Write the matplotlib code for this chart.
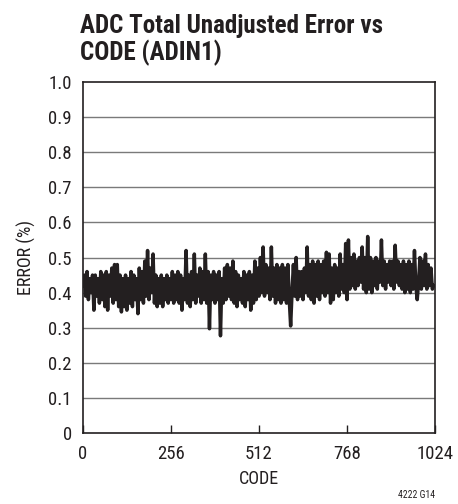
import numpy as np
import matplotlib.pyplot as plt
from matplotlib import font_manager

# look for a narrow face; otherwise ask DejaVu for its condensed cut
names = {f.name for f in font_manager.fontManager.ttflist}
narrow = [n for n in ['Liberation Sans Narrow', 'Roboto Condensed', 'DejaVu Sans'] if n in names]
plt.rcParams['font.family'] = narrow + ['DejaVu Sans']
plt.rcParams['font.stretch'] = 'condensed'

# ADC code, every 4th code
codes = np.arange(0, 1024, 4)
# total unadjusted error (%)
error = [
    0.42, 0.45, 0.39, 0.46, 0.38, 0.44, 0.40, 0.45,
    0.35, 0.45, 0.39, 0.44, 0.37, 0.46, 0.38, 0.45,
    0.36, 0.46, 0.35, 0.45, 0.39, 0.47, 0.37, 0.48,
    0.38, 0.48, 0.36, 0.45, 0.345, 0.44, 0.36, 0.45,
    0.35, 0.44, 0.37, 0.46, 0.36, 0.45, 0.38, 0.44,
    0.34, 0.47, 0.38, 0.46, 0.37, 0.49, 0.39, 0.52,
    0.38, 0.47, 0.40, 0.51, 0.37, 0.45, 0.36, 0.44,
    0.37, 0.45, 0.36, 0.44, 0.38, 0.45, 0.37, 0.44,
    0.38, 0.46, 0.37, 0.45, 0.38, 0.46, 0.37, 0.45,
    0.35, 0.44, 0.38, 0.52, 0.37, 0.45, 0.36, 0.46,
    0.38, 0.51, 0.37, 0.45, 0.39, 0.47, 0.37, 0.46,
    0.38, 0.51, 0.37, 0.46, 0.297, 0.45, 0.38, 0.46,
    0.37, 0.45, 0.38, 0.46, 0.277, 0.44, 0.37, 0.47,
    0.38, 0.48, 0.39, 0.47, 0.38, 0.49, 0.37, 0.46,
    0.36, 0.45, 0.38, 0.44, 0.37, 0.46, 0.36, 0.45,
    0.38, 0.46, 0.35, 0.45, 0.37, 0.49, 0.38, 0.47,
    0.39, 0.50, 0.40, 0.53, 0.39, 0.48, 0.40, 0.47,
    0.38, 0.53, 0.39, 0.47, 0.37, 0.48, 0.38, 0.47,
    0.37, 0.48, 0.38, 0.47, 0.37, 0.48, 0.38, 0.305,
    0.40, 0.48, 0.39, 0.50, 0.38, 0.46, 0.39, 0.46,
    0.38, 0.47, 0.40, 0.53, 0.39, 0.48, 0.38, 0.49,
    0.37, 0.48, 0.39, 0.49, 0.38, 0.48, 0.40, 0.49,
    0.39, 0.515, 0.40, 0.51, 0.37, 0.47, 0.38, 0.48,
    0.40, 0.47, 0.39, 0.51, 0.41, 0.48, 0.40, 0.54,
    0.38, 0.55, 0.41, 0.50, 0.42, 0.51, 0.41, 0.49,
    0.42, 0.50, 0.43, 0.53, 0.41, 0.50, 0.40, 0.56,
    0.41, 0.50, 0.40, 0.49, 0.42, 0.50, 0.41, 0.49,
    0.43, 0.55, 0.42, 0.49, 0.41, 0.48, 0.43, 0.49,
    0.42, 0.49, 0.41, 0.535, 0.43, 0.49, 0.42, 0.48,
    0.41, 0.49, 0.40, 0.48, 0.41, 0.49, 0.40, 0.48,
    0.41, 0.52, 0.42, 0.38, 0.43, 0.50, 0.41, 0.49,
    0.42, 0.51, 0.41, 0.48, 0.42, 0.47, 0.41, 0.42,
]
xticks = [0, 256, 512, 768, 1024]
yticks = [0, 0.1, 0.2, 0.3, 0.4, 0.5, 0.6, 0.7, 0.8, 0.9, 1.0]
ylabels = ['0', '0.1', '0.2', '0.3', '0.4', '0.5', '0.6', '0.7', '0.8', '0.9', '1.0']

fig = plt.figure(figsize=(4.58, 5.04), dpi=100)
ax = fig.add_axes([0.181, 0.141, 0.769, 0.696])

for y in yticks[1:-1]:
    ax.axhline(y, color='#7a7a7a', lw=1.0, zorder=1)
ax.plot(codes, error, color='#231f20', lw=2.5, zorder=3)

ax.set_xlim(0, 1024)
ax.set_ylim(0, 1.0)
ax.set_xticks(xticks)
ax.set_xticklabels([str(t) for t in xticks])
ax.set_yticks(yticks)
ax.set_yticklabels(ylabels)
ax.tick_params(axis='x', direction='in', length=6, width=1, pad=9, labelsize=13.5, colors='#231f20')
ax.tick_params(axis='y', length=0, pad=8, labelsize=13.5, colors='#231f20')
for s in ax.spines.values():
    s.set_linewidth(1.2)
    s.set_color('#231f20')

ax.set_xlabel('CODE', fontsize=13, labelpad=5, color='#231f20')
ax.set_ylabel('ERROR (%)', fontsize=13, labelpad=9, color='#231f20')

fig.text(0.174, 0.973, 'ADC Total Unadjusted Error vs\nCODE (ADIN1)', fontsize=18,
         fontweight='bold', ha='left', va='top', linespacing=1.1, color='#231f20')
fig.text(0.95, 0.008, '4222 G14', fontsize=7, ha='right', va='bottom', color='#231f20')

fig.savefig('out.png', dpi=100)
